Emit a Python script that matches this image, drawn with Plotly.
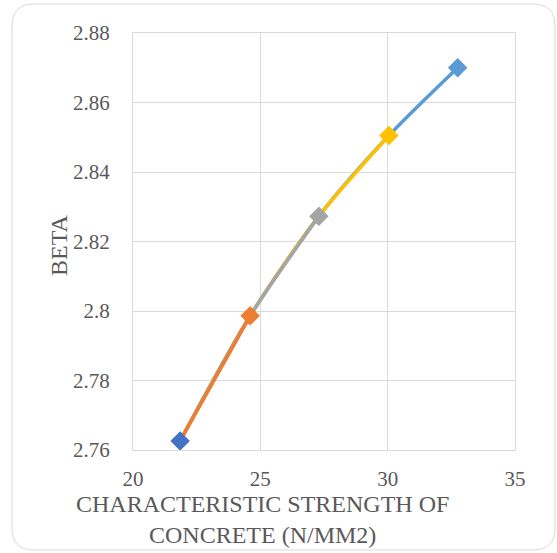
import plotly.graph_objects as go

strength = [21.85, 24.6, 27.3, 30.05, 32.75]
beta = [2.7626, 2.7986, 2.8273, 2.8505, 2.8700]
colors = ["#4472C4", "#ED7D31", "#A5A5A5", "#FFC000", "#5B9BD5"]
x_ticks = [20, 25, 30, 35]
y_ticks = [2.76, 2.78, 2.80, 2.82, 2.84, 2.86, 2.88]
y_labels = ["2.76", "2.78", "2.8", "2.82", "2.84", "2.86", "2.88"]

W, H = 557, 553
L, R, T, B = 133, 42, 33, 103

fig = go.Figure()
# nested smoothed series, longest first so shorter ones sit on top
for k in range(len(strength) - 1, 0, -1):
    fig.add_trace(go.Scatter(
        x=strength[:k + 1], y=beta[:k + 1], mode="lines",
        line=dict(color=colors[k], width=3.5, shape="spline", smoothing=0.8),
        showlegend=False, hoverinfo="skip"))
fig.add_trace(go.Scatter(
    x=strength, y=beta, mode="markers",
    marker=dict(symbol="diamond", size=15, color=colors, line=dict(width=0)),
    showlegend=False))

pw = W - L - R
ph = H - T - B
def px(xp):
    return (xp - L) / pw
def py(yp):
    return 1 - (yp - T) / ph

x0, x1, y0, y1, r = 12, 555, 4, 550, 22
path = (f"M {px(x0 + r)},{py(y0)} L {px(x1 - r)},{py(y0)} "
        f"Q {px(x1)},{py(y0)} {px(x1)},{py(y0 + r)} "
        f"L {px(x1)},{py(y1 - r)} Q {px(x1)},{py(y1)} {px(x1 - r)},{py(y1)} "
        f"L {px(x0 + r)},{py(y1)} Q {px(x0)},{py(y1)} {px(x0)},{py(y1 - r)} "
        f"L {px(x0)},{py(y0 + r)} Q {px(x0)},{py(y0)} {px(x0 + r)},{py(y0)} Z")

fam = "Liberation Serif, Times New Roman, serif"
tickfont = dict(family=fam, size=21, color="#595959")
titlefont = dict(family=fam, size=24, color="#595959")
fig.update_layout(
    width=W, height=H, margin=dict(l=L, r=R, t=T, b=B),
    paper_bgcolor="white", plot_bgcolor="white",
    font=tickfont,
    xaxis=dict(range=[20, 35], tickvals=x_ticks, showgrid=True, gridcolor="#d9d9d9",
               gridwidth=1, zeroline=False, showline=True, mirror=True,
               linecolor="#d9d9d9", linewidth=1, ticks="", tickfont=tickfont,
               ticklabelstandoff=10),
    yaxis=dict(range=[2.76, 2.88], tickvals=y_ticks, ticktext=y_labels, showgrid=True,
               gridcolor="#d9d9d9", gridwidth=1, zeroline=False, showline=True,
               mirror=True, linecolor="#d9d9d9", linewidth=1, ticks="", tickfont=tickfont,
               ticklabelstandoff=18),
    shapes=[dict(type="path", xref="paper", yref="paper", path=path,
                 line=dict(color="#d9d9d9", width=1), layer="below")],
    annotations=[
        dict(text="CHARACTERISTIC STRENGTH OF<br>CONCRETE (N/MM2)", xref="paper", yref="paper",
             x=px(262), y=py(489), xanchor="center", yanchor="top", showarrow=False,
             font=titlefont, align="center"),
        dict(text="BETA", xref="paper", yref="paper", x=px(59), y=py(246),
             xanchor="center", yanchor="middle",
             textangle=-90, showarrow=False, font=titlefont),
    ],
)
fig.write_html("out.html")
